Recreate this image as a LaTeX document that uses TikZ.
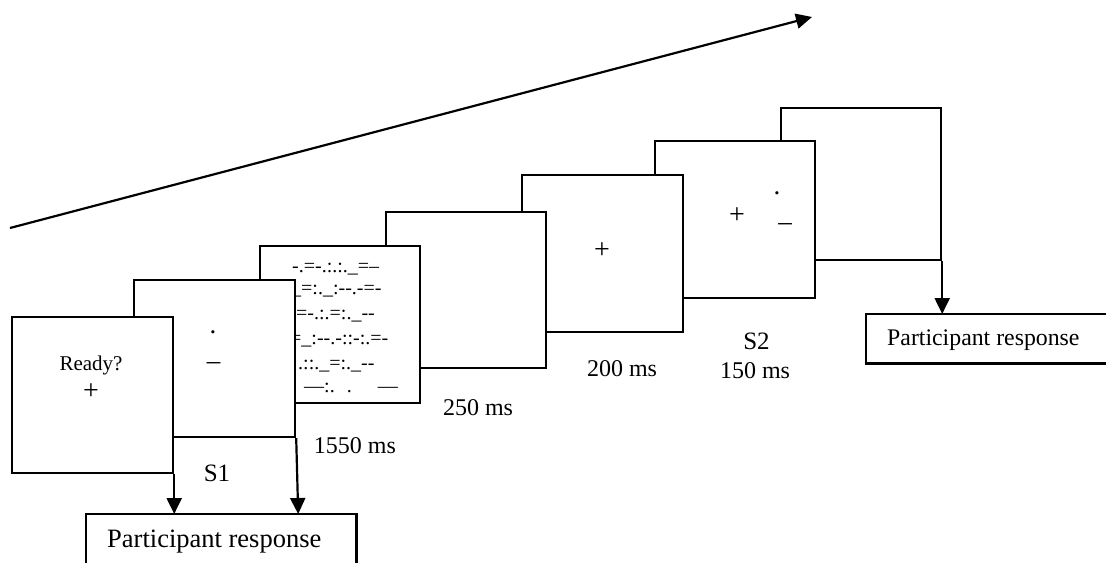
\documentclass[tikz,border=0pt]{standalone}
\usepackage{fontspec}
\setmainfont{Liberation Serif}
\usetikzlibrary{arrows.meta}
\newcommand{\fsz}[1]{\fontsize{#1}{#1}\selectfont}
\begin{document}
\begin{tikzpicture}[x=1pt,y=-1pt,
  panel/.style={draw, fill=white, line width=2.2pt, minimum width=160pt,
    minimum height=157pt, inner sep=0pt, anchor=north west},
  conn/.style={line width=2.2pt, -{Triangle[length=16pt,width=15pt]}},
  boxline/.style={line width=2.2pt},
  lab/.style={font=\fsz{24}, inner sep=0pt, anchor=base},
  slab/.style={font=\fsz{25}, inner sep=0pt, anchor=base},
  sym/.style={font=\fsz{28}, inner sep=0pt},
  stimmark/.style={font=\fsz{27}, inner sep=0pt},
  noise/.style={font=\fsz{20}, inner sep=0pt, anchor=base west},
  resp/.style={inner sep=0pt, anchor=north west}]
\useasboundingbox (0,0) rectangle (1106,563);

% time arrow
\coordinate (t0) at (10,228);
\coordinate (t1) at (812,17);
\draw[conn] (t0) -- (t1);

% panels, back to front
\node[panel, minimum height=152pt] (p7) at (780,107) {};
\node[panel] (p6) at (654,140) {};
\node[panel, minimum width=161pt] (p5) at (521,174) {};
\node[panel, minimum height=156pt] (p4) at (385,211) {};
\node[panel] (p3) at (259,245) {};
\begin{scope}
  \clip (p3.north west) rectangle (p3.south east);
  \node[noise] (n1) at (292,272) {-.=-.:.:.\_=--};
  \node[noise] (n2) at (291,294) {\_=:.\_:-{}-.-=-};
  \node[noise] (n3) at (291,319) {.=-.:.=:.\_-{}-};
  \node[noise] (n4) at (290,344) {=\_:-{}-.-::-:.=-};
  \node[noise] (n5) at (298,369) {.::.\_=:.\_-{}-};
  \node[noise] (n6) at (304,392) {---:.\hspace{12pt}.\hspace{26pt}---};
\end{scope}
\node[panel, minimum width=161pt] (p2) at (133,279) {};
\node[panel, minimum width=161pt, minimum height=156pt] (p1) at (11,316) {};

% panel contents
\node[font=\fsz{21}, inner sep=0pt, anchor=base] (ready) at (91,370) {Ready?};
\node[sym] (fx1) at (91,392) {+};
\node[stimmark] (dot2) at (213,332) {.};
\node[stimmark] (dash2) at (213.5,366) {–};
\node[sym] (fx5) at (602,251) {+};
\node[sym] (fx6) at (737,216) {+};
\node[stimmark] (dot6) at (777,193) {.};
\node[stimmark] (dash6) at (785,227) {–};

% labels
\node[slab] (s1) at (217,481) {S1};
\node[lab] (t1550) at (355,453) {1550 ms};
\node[lab] (t250) at (478,415) {250 ms};
\node[lab] (t200) at (622,376) {200 ms};
\node[slab] (s2) at (756.5,349) {S2};
\node[lab] (t150) at (755,378) {150 ms};

% response boxes
\node[resp, minimum width=270pt, minimum height=49pt] (resp1) at (86,514) {};
\draw[boxline] (resp1.south west) -- (resp1.north west) -- (resp1.north east) -- (resp1.south east);
\node[font=\fsz{26.5}, inner sep=0pt, anchor=west] (resp1t) at (107,542) {Participant response};

\node[resp, minimum width=240pt, minimum height=49pt] (resp2) at (866,314) {};
\draw[boxline] (resp2.north east) -- (resp2.north west) -- (resp2.south west) -- (resp2.south east);
\node[font=\fsz{23.8}, inner sep=0pt, anchor=west] (resp2t) at (887,340) {Participant response};

% connectors
\draw[conn] (p1.south east) -- (p1.south east |- resp1.north);
\draw[conn] (p2.south east) -- ([xshift=2pt]p2.south east |- resp1.north);
\draw[conn] (p7.south east) -- (p7.south east |- resp2.north);
\end{tikzpicture}
\end{document}
